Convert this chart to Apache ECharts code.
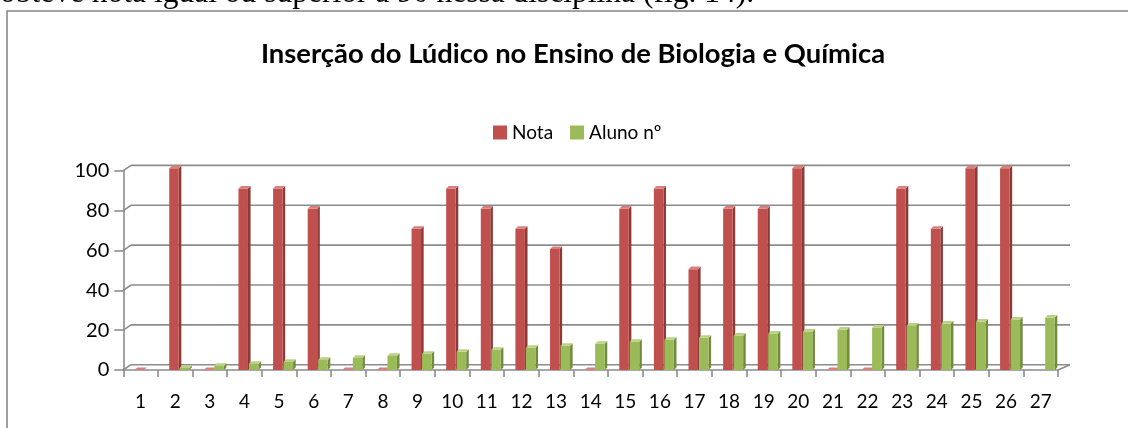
<!DOCTYPE html>
<html>
<head>
<meta charset="utf-8">
<script src="https://cdn.jsdelivr.net/npm/echarts@6/dist/echarts.min.js"></script>
<style>
  html, body { margin: 0; padding: 0; background: #fff; }
  #chart { width: 1128px; height: 428px; }
</style>
</head>
<body>
<div id="chart"></div>
<script>
// ---- data ----
const categories = ['1','2','3','4','5','6','7','8','9','10','11','12','13','14','15','16','17','18','19','20','21','22','23','24','25','26','27'];
const nota  = [0, 100, 0, 90, 90, 80, 0, 0, 70, 90, 80, 70, 60, 0, 80, 90, 50, 80, 80, 100, 0, 0, 90, 70, 100, 100, null];
const aluno = [null, 1, 2, 3, 4, 5, 6, 7, 8, 9, 10, 11, 12, 13, 14, 15, 16, 17, 18, 19, 20, 21, 22, 23, 24, 25, 26];
const yTicks = [0, 20, 40, 60, 80, 100];
const seriesNames = ['Nota', 'Aluno nº'];
const titleText = 'Inserção do Lúdico no Ensino de Biologia e Química';
const topText = 'obteve nota igual ou superior a 90 nessa disciplina (fig. 14).';

// ---- styles ----
const GRID_COLOR = '#8c8c8c';
const FONT = 'Lato';
const BACK_DX_L = 7.7, BACK_DX_R = 12, BACK_DY = 5.3;

function bar3d(front, side, top, offLeft, width) {
  return function (params, api) {
    const idx = api.value(0);
    const v = api.value(1);
    if (v == null || isNaN(v)) return;
    const base = api.coord([idx, 0]);
    const tp = api.coord([idx, v]);
    const c = base[0];
    const x0 = c + offLeft, x1 = x0 + width;
    const yb = base[1];
    const yt = yb + (tp[1] - yb) * 1.012;
    const dx = 2.6, dy = 2.6;
    return {
      type: 'group',
      children: [
        { type: 'polygon', shape: { points: [[x1, yt], [x1 + dx, yt - dy], [x1 + dx, yb - dy], [x1, yb]] }, style: { fill: side } },
        { type: 'rect', shape: { x: x0, y: yt, width: width, height: yb - yt }, style: { fill: front } },
        { type: 'polygon', shape: { points: [[x0, yt], [x0 + dx, yt - dy], [x1 + dx, yt - dy], [x1, yt]] }, style: { fill: top } }
      ]
    };
  };
}

function frameItem(params, api) {
  const v = api.value(1);
  const cs = params.coordSys;
  const left = cs.x, right = cs.x + cs.width;
  const y = api.coord([0, v])[1];
  const ls = { stroke: GRID_COLOR, lineWidth: 1.6 };
  const children = [
    { type: 'line', shape: { x1: left + BACK_DX_L, y1: y - BACK_DY, x2: right + BACK_DX_R, y2: y - BACK_DY }, style: ls },
    { type: 'line', shape: { x1: left, y1: y, x2: left + BACK_DX_L, y2: y - BACK_DY }, style: ls }
  ];
  if (v === 0) {
    children.push({ type: 'line', shape: { x1: right, y1: y, x2: right + BACK_DX_R, y2: y - BACK_DY }, style: ls });
  }
  return { type: 'group', children: children };
}

const chart = echarts.init(document.getElementById('chart'), null, { renderer: 'canvas' });

chart.setOption({
  backgroundColor: '#ffffff',
  animation: false,
  title: {
    text: titleText,
    left: 568,
    textAlign: 'center',
    top: 36,
    textStyle: { fontFamily: FONT, fontWeight: 'bold', fontSize: 27.4, color: '#000' }
  },
  legend: {
    data: seriesNames,
    left: 488,
    top: 118,
    itemWidth: 14,
    itemHeight: 14,
    itemGap: 17,
    icon: 'rect',
    textStyle: { fontFamily: FONT, fontSize: 19, color: '#000' }
  },
  graphic: [
    { type: 'rect', shape: { x: 7, y: 11, width: 1140, height: 440 }, style: { fill: 'none', stroke: '#878787', lineWidth: 1.6 }, z: 0 },
    { type: 'text', x: 0, y: -6, style: { text: topText, font: '31.5px "Liberation Serif"', fill: '#000', verticalAlign: 'middle', textAlign: 'left' } }
  ],
  grid: { left: 123.3, right: 70, top: 170.7, bottom: 58, containLabel: false },
  xAxis: {
    type: 'category',
    data: categories,
    boundaryGap: true,
    axisLine: { show: true, lineStyle: { color: GRID_COLOR, width: 1.6 } },
    axisTick: { show: true, length: 7, lineStyle: { color: GRID_COLOR, width: 1.6 } },
    axisLabel: { margin: 22, fontFamily: FONT, fontSize: 19, color: '#000' },
    splitLine: { show: false }
  },
  yAxis: {
    type: 'value',
    min: 0, max: 100, interval: 20,
    axisLine: { show: true, lineStyle: { color: GRID_COLOR, width: 1.6 } },
    axisTick: { show: true, length: 9, lineStyle: { color: GRID_COLOR, width: 1.6 } },
    axisLabel: { margin: 14, fontFamily: FONT, fontSize: 20, color: '#000' },
    splitLine: { show: false }
  },
  series: [
    {
      type: 'custom', name: 'frame', silent: true, z: 1,
      renderItem: frameItem,
      data: yTicks.map(v => [0, v])
    },
    {
      type: 'custom', name: seriesNames[0], z: 3,
      itemStyle: { color: '#C0504D' },
      renderItem: bar3d('#C0504D', '#8C3A38', '#D8807E', -6, 9.5),
      data: nota.map((v, i) => [i, v])
    },
    {
      type: 'custom', name: seriesNames[1], z: 4,
      itemStyle: { color: '#9BBB59' },
      renderItem: bar3d('#9BBB59', '#728B40', '#B8D283', 4.5, 9.5),
      data: aluno.map((v, i) => [i, v])
    }
  ]
});
</script>
</body>
</html>
